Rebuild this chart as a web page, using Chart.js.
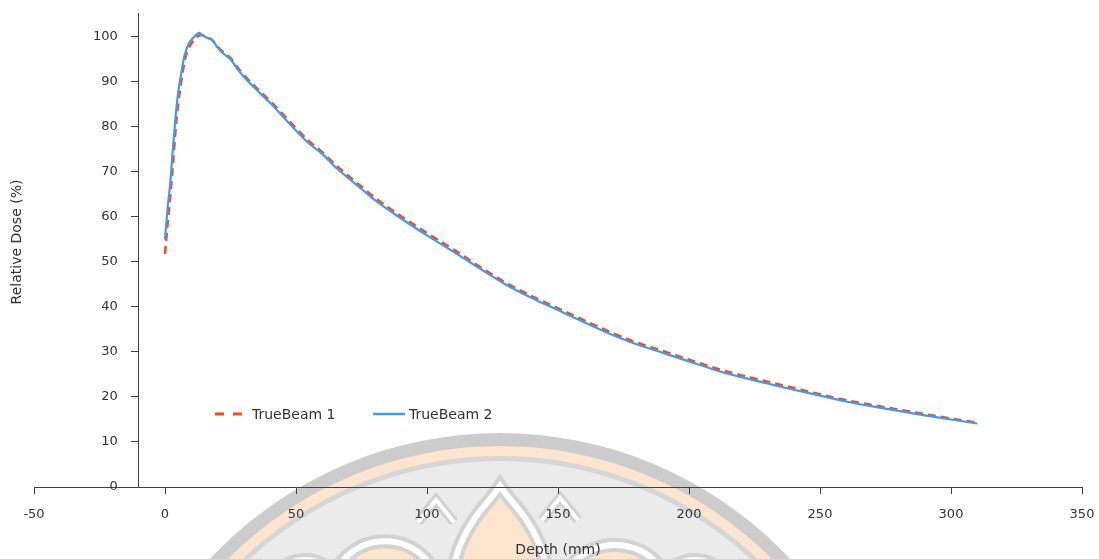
<!DOCTYPE html>
<html>
<head>
<meta charset="utf-8">
<title>Depth dose</title>
<script src="https://cdn.jsdelivr.net/npm/chart.js@4.4.1/dist/chart.umd.min.js"></script>
<style>
    html, body { margin: 0; padding: 0; background: #fff; }
    #wrap { position: relative; width: 1099px; height: 559px; }
</style>
</head>
<body>
<div id="wrap"><canvas id="myChart" width="1099" height="559"></canvas></div>
<script>
// depth in mm, dose in % of maximum
const depths = [0, 1, 2, 3, 4, 5, 6, 7, 8, 9, 10, 11, 12, 13, 14, 15, 16,
    18, 20, 22, 25, 28, 30,
    35, 40, 45, 50, 55, 60, 65, 70, 75, 80,
    90, 100, 110, 120, 130, 140, 150, 160, 170, 180, 190, 200, 210, 220, 230, 240, 250, 260, 270, 280, 290, 300, 310];

const trueBeam1 = [51.8, 58.5, 64.5, 71.5, 79.0, 85.0, 89.3, 93.0, 95.8, 97.4, 98.5, 99.3, 99.9, 100.3, 100.4, 100.2, 99.9,
    99.3, 97.9, 96.7, 95.3, 93.0, 91.6,
    88.6, 85.8, 82.8, 79.7, 76.8, 74.4, 71.6, 69.1, 66.7, 64.3,
    60.2, 56.4, 52.8, 49.0, 45.4, 42.4, 39.7, 37.0, 34.4, 32.1, 30.2, 28.3, 26.4, 24.8, 23.4, 22.0, 20.6, 19.3, 18.2, 17.2, 16.2, 15.2, 14.3];

const trueBeam2 = [55.0, 62.0, 67.5, 75.0, 82.0, 87.5, 91.2, 94.6, 96.9, 98.4, 99.3, 99.9, 100.5, 100.9, 100.5, 100.1, 99.8,
    99.3, 97.7, 96.4, 95.0, 92.6, 91.2,
    88.2, 85.4, 82.3, 79.2, 76.3, 74.0, 71.1, 68.6, 66.2, 63.8,
    59.7, 55.9, 52.3, 48.6, 45.0, 42.0, 39.3, 36.6, 34.0, 31.7, 29.8, 27.9, 26.0, 24.4, 23.0, 21.6, 20.3, 19.0, 17.9, 16.9, 15.9, 15.0, 14.1];

const xTicks = [-50, 0, 50, 100, 150, 200, 250, 300, 350];
const yTicks = [0, 10, 20, 30, 40, 50, 60, 70, 80, 90, 100];

const seriesNames = ['TrueBeam 1', 'TrueBeam 2'];
const RED = '#ff4719';
const BLUE = '#3d9cf0';
const AXIS = '#404040';
const TEXT = '#333333';
const FONT = 'DejaVu Sans';

function toPoints(ys) {
    return depths.map((d, i) => ({ x: d, y: ys[i] }));
}

// faint logo behind the plot
function drawPetal(ctx, cx, topY, halfW, baseY, pointed) {
    const h = baseY - topY;
    ctx.beginPath();
    ctx.moveTo(cx - halfW, baseY);
    if (pointed) {
        ctx.bezierCurveTo(cx - halfW, topY + h * 0.35, cx - halfW * 0.35, topY + h * 0.2, cx, topY);
        ctx.bezierCurveTo(cx + halfW * 0.35, topY + h * 0.2, cx + halfW, topY + h * 0.35, cx + halfW, baseY);
    } else {
        ctx.bezierCurveTo(cx - halfW, topY, cx + halfW, topY, cx + halfW, baseY);
    }
    ctx.fillStyle = '#fde4cf';
    ctx.fill();
    ctx.lineWidth = 14;
    ctx.strokeStyle = '#d2d2d2';
    ctx.stroke();
    ctx.lineWidth = 6;
    ctx.strokeStyle = '#ffffff';
    ctx.stroke();
}

const watermark = {
    id: 'watermark',
    beforeDraw(chart) {
        const ctx = chart.ctx;
        const cx = 500, cy = 830;
        ctx.save();
        const rings = [[397, '#cccccc'], [384, '#fde4cf'], [374, '#d6d6d6'], [369, '#ebebeb']];
        rings.forEach(([r, c]) => {
            ctx.beginPath();
            ctx.arc(cx, cy, r, 0, Math.PI * 2);
            ctx.fillStyle = c;
            ctx.fill();
        });
        drawPetal(ctx, 305, 540, 45, 620, false);
        drawPetal(ctx, 695, 540, 45, 620, false);
        drawPetal(ctx, 385, 515, 62, 620, false);
        drawPetal(ctx, 615, 520, 62, 620, false);
        drawPetal(ctx, 500, 486, 52, 620, true);
        // small leaves between the petals
        [[436, 500], [560, 498]].forEach(([lx, ly]) => {
            ctx.beginPath();
            ctx.moveTo(lx - 18, ly + 22);
            ctx.lineTo(lx, ly);
            ctx.lineTo(lx + 18, ly + 22);
            ctx.lineWidth = 10;
            ctx.strokeStyle = '#d2d2d2';
            ctx.stroke();
            ctx.lineWidth = 4;
            ctx.strokeStyle = '#ffffff';
            ctx.stroke();
        });
        ctx.restore();
    }
};

// y tick labels, y title and the legend inside the plot
const annotations = {
    id: 'annotations',
    afterDraw(chart) {
        const ctx = chart.ctx;
        const yScale = chart.scales.y;
        const xScale = chart.scales.x;
        const axisX = xScale.getPixelForValue(-10);

        ctx.save();
        ctx.fillStyle = TEXT;
        ctx.font = '13px "' + FONT + '"';
        ctx.textAlign = 'right';
        ctx.textBaseline = 'middle';
        yScale.ticks.forEach(t => {
            ctx.fillText(String(t.value), axisX - 21, yScale.getPixelForValue(t.value));
        });
        ctx.restore();

        ctx.save();
        ctx.fillStyle = TEXT;
        ctx.font = '14px "' + FONT + '"';
        ctx.textAlign = 'center';
        ctx.textBaseline = 'middle';
        ctx.translate(17, (yScale.top + yScale.bottom) / 2 - 8);
        ctx.rotate(-Math.PI / 2);
        ctx.fillText('Relative Dose (%)', 0, 0);
        ctx.restore();

        ctx.save();
        const ly = 414;
        ctx.lineWidth = 3;
        ctx.strokeStyle = RED;
        ctx.setLineDash([9, 9]);
        ctx.beginPath();
        ctx.moveTo(215, ly);
        ctx.lineTo(243, ly);
        ctx.stroke();
        ctx.setLineDash([]);
        ctx.strokeStyle = BLUE;
        ctx.lineWidth = 2.5;
        ctx.beginPath();
        ctx.moveTo(373, ly);
        ctx.lineTo(405, ly);
        ctx.stroke();
        ctx.fillStyle = TEXT;
        ctx.font = '14px "' + FONT + '"';
        ctx.textAlign = 'left';
        ctx.textBaseline = 'middle';
        ctx.fillText(seriesNames[0], 252, ly + 1);
        ctx.fillText(seriesNames[1], 409, ly + 1);
        ctx.restore();
    }
};

const ctx = document.getElementById('myChart').getContext('2d');
const myChart = new Chart(ctx, {
    type: 'line',
    data: {
        datasets: [{
            label: seriesNames[0],
            data: toPoints(trueBeam1),
            borderColor: RED,
            borderWidth: 2.5,
            borderDash: [8, 5],
            pointRadius: 0,
            fill: false,
            cubicInterpolationMode: 'monotone',
            order: 1
        }, {
            label: seriesNames[1],
            data: toPoints(trueBeam2),
            borderColor: BLUE,
            borderWidth: 2.2,
            pointRadius: 0,
            fill: false,
            cubicInterpolationMode: 'monotone',
            order: 0
        }]
    },
    options: {
        responsive: false,
        animation: false,
        devicePixelRatio: 1,
        layout: { padding: { left: 34, right: 17, top: 13, bottom: 0 } },
        plugins: {
            legend: { display: false },
            tooltip: { enabled: false }
        },
        scales: {
            x: {
                type: 'linear',
                min: -50,
                max: 350,
                afterBuildTicks(scale) { scale.ticks = xTicks.map(v => ({ value: v })); },
                afterFit(scale) {
                    scale.height = 72;
                    scale.paddingLeft = 0;
                    scale.paddingRight = 0;
                },
                ticks: { color: TEXT, font: { family: FONT, size: 13 }, padding: 13, maxRotation: 0 },
                grid: { drawOnChartArea: false, tickLength: 7, color: AXIS },
                border: { display: true, color: AXIS, width: 1 },
                title: {
                    display: true,
                    text: 'Depth (mm)',
                    color: TEXT,
                    font: { family: FONT, size: 14 },
                    padding: { top: 4, bottom: 0 }
                }
            },
            y: {
                type: 'linear',
                min: 0,
                max: 105.3,
                position: { x: -10 },
                afterBuildTicks(scale) { scale.ticks = yTicks.map(v => ({ value: v })); },
                ticks: { display: false },
                grid: { drawOnChartArea: false, tickLength: 7, color: AXIS },
                border: { display: true, color: AXIS, width: 1 }
            }
        }
    },
    plugins: [watermark, annotations]
});
</script>
</body>
</html>
